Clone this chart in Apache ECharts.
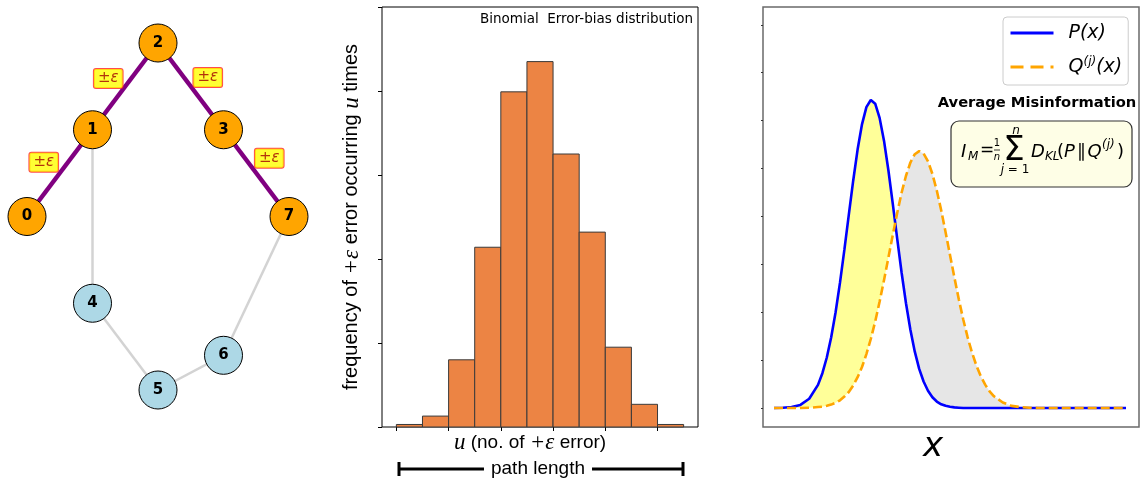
<!DOCTYPE html>
<html>
<head>
<meta charset="utf-8">
<script src="https://cdn.jsdelivr.net/npm/echarts@6/dist/echarts.min.js"></script>
<style>
  html, body { margin: 0; padding: 0; background: #fff; }
  #chart { width: 1142px; height: 479px; }
</style>
</head>
<body>
<div id="chart"></div>
<script>
// --- left panel: network ---
const nodeNames = ['0', '1', '2', '3', '4', '5', '6', '7'];
const nodeX = [0, 1, 2, 3, 1, 2, 3, 4];
const nodeY = [2, 1, 0, 1, 3, 4, 3.6, 2];
const pathNodes = ['0', '1', '2', '3', '7'];
const pathEdges = [[0, 1], [1, 2], [2, 3], [3, 7]];
const otherEdges = [[1, 4], [4, 5], [5, 6], [6, 7]];

// --- middle panel: histogram ---
const binEdges = [0, 1, 2, 3, 4, 5, 6, 7, 8, 9, 10, 11];
const binCounts = [0.03, 0.13, 0.80, 2.14, 3.99, 4.35, 3.25, 2.32, 0.95, 0.27, 0.03];
const histTicks = [0, 2, 4, 6, 8, 10];

// --- right panel: P(x) and Q(x) ---
const curveX = [0, 1, 2, 3, 4, 5, 5.5, 6, 6.5, 7, 7.5, 8, 8.5, 9, 9.5, 10, 10.5, 11, 11.5, 12,
  12.5, 13, 13.5, 14, 14.5, 15, 15.5, 16, 16.5, 17, 17.5, 18, 18.5, 19, 19.5, 20, 20.5, 21, 21.5,
  22, 22.5, 23, 23.5, 24, 24.5, 25, 26, 27, 28, 29, 30, 32, 34, 36, 38, 40];
const pValues = [0, 0.001, 0.003, 0.010, 0.030, 0.075, 0.113, 0.164, 0.230, 0.311, 0.407, 0.514,
  0.627, 0.738, 0.839, 0.921, 0.977, 1.000, 0.988, 0.942, 0.868, 0.772, 0.663, 0.550, 0.440,
  0.340, 0.254, 0.183, 0.127, 0.086, 0.056, 0.035, 0.021, 0.012, 0.007, 0.004, 0.002, 0.001, 0,
  0, 0, 0, 0, 0, 0, 0, 0, 0, 0, 0, 0, 0, 0, 0, 0, 0];
const qValues = [0, 0, 0, 0, 0.001, 0.003, 0.004, 0.007, 0.011, 0.017, 0.025, 0.037, 0.052,
  0.073, 0.100, 0.133, 0.175, 0.224, 0.281, 0.345, 0.415, 0.488, 0.562, 0.633, 0.699, 0.754,
  0.797, 0.824, 0.834, 0.826, 0.801, 0.760, 0.706, 0.642, 0.571, 0.497, 0.424, 0.353, 0.288,
  0.230, 0.180, 0.138, 0.103, 0.076, 0.054, 0.038, 0.018, 0.007, 0.003, 0.001, 0, 0, 0, 0, 0, 0];
const densityTicks = [0, 0.156, 0.311, 0.467, 0.622, 0.778, 0.933, 1.089, 1.244];

const chart = echarts.init(document.getElementById('chart'));

const edgeLabelOffsets = [[-16, -11], [-17, -8], [17, -9], [13, -15]];

// where P drops below Q (linear between samples)
function findCrossing() {
  for (let i = 0; i < curveX.length - 1; i++) {
    const d0 = pValues[i] - qValues[i];
    const d1 = pValues[i + 1] - qValues[i + 1];
    if (d0 >= 0 && d1 < 0) {
      const t = d0 / (d0 - d1);
      return {
        i: i,
        x: curveX[i] + t * (curveX[i + 1] - curveX[i]),
        y: pValues[i] + t * (pValues[i + 1] - pValues[i])
      };
    }
  }
  return null;
}

function renderFill(params, api) {
  const c = findCrossing();
  const n = curveX.length;
  const pts = [];
  if (params.dataIndex === 0) {
    for (let i = 0; i <= c.i; i++) pts.push(api.coord([curveX[i], pValues[i]]));
    pts.push(api.coord([c.x, c.y]));
    for (let i = c.i; i >= 0; i--) pts.push(api.coord([curveX[i], qValues[i]]));
  } else {
    pts.push(api.coord([c.x, c.y]));
    for (let i = c.i + 1; i < n; i++) pts.push(api.coord([curveX[i], qValues[i]]));
    for (let i = n - 1; i > c.i; i--) pts.push(api.coord([curveX[i], pValues[i]]));
  }
  return {
    type: 'polygon',
    shape: { points: pts },
    style: { fill: params.dataIndex === 0 ? '#ffff99' : '#e6e6e6', stroke: null }
  };
}

function renderBin(params, api) {
  const topLeft = api.coord([api.value(0), api.value(2)]);
  const bottomRight = api.coord([api.value(1), 0]);
  return {
    type: 'rect',
    shape: {
      x: topLeft[0], y: topLeft[1],
      width: bottomRight[0] - topLeft[0], height: bottomRight[1] - topLeft[1]
    },
    style: { fill: '#ec8444', stroke: '#3a3a3a', lineWidth: 1 }
  };
}

const serifMath = { fontFamily: 'Liberation Serif', fontStyle: 'italic', fontSize: 23 };
const sansText = 'Liberation Sans';
const mathFont = 'DejaVu Sans';

const option = {
  animation: false,
  backgroundColor: '#fff',
  grid: [
    { left: 27, top: 43, width: 262, height: 347 },
    { left: 382, top: 7, width: 316, height: 420, show: true, borderColor: '#000', borderWidth: 1 },
    { left: 763, top: 7, width: 376, height: 420, show: true, borderColor: '#6a6a6a', borderWidth: 1.5 }
  ],
  xAxis: [
    { gridIndex: 0, type: 'value', min: 0, max: 4, show: false },
    {
      gridIndex: 1, type: 'value', min: -0.55, max: 11.55,
      axisLine: { show: false, onZero: false },
      axisTick: { show: true, length: 4, customValues: histTicks, lineStyle: { color: '#000' } },
      axisLabel: { show: false },
      splitLine: { show: false },
      name: '{m|u} (no. of {m|+ε} error)',
      nameLocation: 'middle',
      nameGap: 4,
      nameTextStyle: {
        fontFamily: sansText, fontSize: 19, color: '#000', verticalAlign: 'top',
        padding: [0, 20, 0, 0],
        rich: { m: serifMath }
      }
    },
    { gridIndex: 2, type: 'value', min: -1.25, max: 41.48, show: false }
  ],
  yAxis: [
    { gridIndex: 0, type: 'value', min: 0, max: 4, inverse: true, show: false },
    {
      gridIndex: 1, type: 'value', min: 0, max: 5, interval: 1,
      axisLine: { show: false, onZero: false },
      axisTick: { show: true, length: 4, lineStyle: { color: '#000' } },
      axisLabel: { show: false },
      splitLine: { show: false },
      name: 'frequency of {m|+ε} error occurring {m|u} times',
      nameLocation: 'middle',
      nameRotate: 90,
      nameGap: 19,
      nameTextStyle: {
        fontFamily: sansText, fontSize: 20, color: '#000',
        rich: { m: serifMath }
      }
    },
    {
      gridIndex: 2, type: 'value', min: -0.0617, max: 1.302,
      axisLine: { show: false, onZero: false },
      axisTick: { show: true, length: 2, customValues: densityTicks, lineStyle: { color: '#333' } },
      axisLabel: { show: false },
      splitLine: { show: false }
    }
  ],
  legend: {
    left: 1003, top: 17,
    orient: 'vertical',
    padding: [5, 6, 7, 6],
    itemGap: 12,
    itemWidth: 43,
    itemHeight: 14,
    backgroundColor: '#fff',
    borderColor: '#cccccc',
    borderWidth: 1,
    borderRadius: 4,
    itemStyle: { opacity: 0 },
    data: [
      { name: 'P', lineStyle: { width: 3 } },
      { name: 'Q', lineStyle: { width: 3, type: [13, 7] } }
    ],
    formatter: function (name) {
      return name === 'P' ? '{i|P}(x)' : '{i|Q}{s|(j)}(x)';
    },
    textStyle: {
      fontFamily: mathFont, fontStyle: 'italic', fontSize: 19, color: '#000',
      lineHeight: 22, padding: [0, 0, 0, 10],
      rich: {
        i: { fontFamily: mathFont, fontStyle: 'italic', fontSize: 19, lineHeight: 22 },
        s: { fontFamily: mathFont, fontStyle: 'italic', fontSize: 12, verticalAlign: 'top', lineHeight: 22, padding: [0, 0, 8, 0] }
      }
    }
  },
  series: [
    {
      type: 'graph',
      coordinateSystem: 'cartesian2d',
      xAxisIndex: 0,
      yAxisIndex: 0,
      symbolSize: 38,
      z: 3,
      data: nodeNames.map((name, i) => ({
        name: name,
        value: [nodeX[i], nodeY[i]],
        itemStyle: { color: pathNodes.includes(name) ? '#FFA500' : '#ADD8E6' }
      })),
      links: pathEdges.map(([a, b]) => ({
        source: String(a), target: String(b),
        lineStyle: { color: '#800080', width: 4.5 }
      })).concat(otherEdges.map(([a, b]) => ({
        source: String(a), target: String(b),
        lineStyle: { color: '#d3d3d3', width: 2.5 }
      }))),
      itemStyle: { borderColor: '#000', borderWidth: 1 },
      lineStyle: { opacity: 1, curveness: 0 },
      label: {
        show: true, position: 'inside', color: '#000',
        fontFamily: mathFont, fontWeight: 'bold', fontSize: 15
      },
      emphasis: { disabled: true }
    },
    {
      type: 'scatter',
      xAxisIndex: 0,
      yAxisIndex: 0,
      symbol: 'circle',
      symbolSize: 1,
      z: 4,
      itemStyle: { color: 'rgba(0,0,0,0)' },
      data: pathEdges.map(([a, b], k) => ({
        value: [(nodeX[a] + nodeX[b]) / 2, (nodeY[a] + nodeY[b]) / 2],
        label: { offset: edgeLabelOffsets[k] }
      })),
      label: {
        show: true,
        position: 'inside',
        formatter: '±{e|ε}',
        color: '#a00000',
        fontFamily: mathFont,
        fontSize: 15,
        backgroundColor: '#ffff00',
        borderColor: '#ff2020',
        borderWidth: 1,
        borderRadius: 2,
        padding: [2, 4, 2, 4],
        rich: { e: { fontFamily: mathFont, fontStyle: 'italic', fontSize: 15, color: '#a00000' } }
      },
      emphasis: { disabled: true }
    },
    {
      type: 'custom',
      xAxisIndex: 1,
      yAxisIndex: 1,
      renderItem: renderBin,
      encode: { x: [0, 1], y: 2 },
      data: binCounts.map((c, i) => [binEdges[i], binEdges[i + 1], c])
    },
    {
      type: 'custom',
      xAxisIndex: 2,
      yAxisIndex: 2,
      renderItem: renderFill,
      encode: { x: 0, y: 1 },
      z: 1,
      data: [[0, 0], [1, 0]]
    },
    {
      name: 'P',
      type: 'line',
      xAxisIndex: 2,
      yAxisIndex: 2,
      symbol: 'none',
      z: 3,
      lineStyle: { color: '#0000ff', width: 2.6 },
      itemStyle: { color: '#0000ff' },
      data: curveX.map((x, i) => [x, pValues[i]])
    },
    {
      name: 'Q',
      type: 'line',
      xAxisIndex: 2,
      yAxisIndex: 2,
      symbol: 'none',
      z: 4,
      lineStyle: { color: '#ffa500', width: 2.6, type: [9, 4] },
      itemStyle: { color: '#ffa500' },
      data: curveX.map((x, i) => [x, qValues[i]])
    }
  ],
  graphic: [
    // histogram title
    {
      type: 'text', x: 693, y: 19,
      style: {
        text: 'Binomial  Error-bias distribution', align: 'right', verticalAlign: 'middle',
        fontFamily: mathFont, fontSize: 13.5, fill: '#000'
      }
    },
    // path length bracket
    { type: 'line', shape: { x1: 399, y1: 469, x2: 683, y2: 469 }, style: { stroke: '#000', lineWidth: 3 } },
    { type: 'line', shape: { x1: 399, y1: 462, x2: 399, y2: 476 }, style: { stroke: '#000', lineWidth: 3 } },
    { type: 'line', shape: { x1: 683, y1: 462, x2: 683, y2: 476 }, style: { stroke: '#000', lineWidth: 3 } },
    {
      type: 'text', x: 538, y: 469, z: 10,
      style: {
        text: 'path length', align: 'center', verticalAlign: 'middle',
        fontFamily: sansText, fontSize: 19, fill: '#000',
        backgroundColor: '#fff', padding: [0, 7, 0, 7]
      }
    },
    // right panel annotations
    {
      type: 'text', x: 933, y: 447,
      style: {
        text: 'x', align: 'center', verticalAlign: 'middle',
        fontFamily: mathFont, fontStyle: 'italic', fontSize: 34, fill: '#000'
      }
    },
    {
      type: 'text', x: 1037, y: 103,
      style: {
        text: 'Average Misinformation', align: 'center', verticalAlign: 'middle',
        fontFamily: mathFont, fontWeight: 'bold', fontSize: 14.7, fill: '#000'
      }
    },
    {
      type: 'rect', shape: { x: 951, y: 121, width: 181, height: 66, r: 8 },
      style: { fill: '#fefee6', stroke: '#333', lineWidth: 1.2 }
    },
    { type: 'text', x: 961, y: 152, style: { text: 'I', verticalAlign: 'middle', fontFamily: mathFont, fontStyle: 'italic', fontSize: 18, fill: '#000' } },
    { type: 'text', x: 968, y: 157, style: { text: 'M', verticalAlign: 'middle', fontFamily: mathFont, fontStyle: 'italic', fontSize: 12, fill: '#000' } },
    { type: 'text', x: 980, y: 151, style: { text: '=', verticalAlign: 'middle', fontFamily: mathFont, fontSize: 17, fill: '#000' } },
    { type: 'text', x: 997, y: 143, style: { text: '1', align: 'center', verticalAlign: 'middle', fontFamily: mathFont, fontSize: 10, fill: '#000' } },
    { type: 'line', shape: { x1: 994, y1: 150, x2: 1000, y2: 150 }, style: { stroke: '#000', lineWidth: 0.8 } },
    { type: 'text', x: 997, y: 157, style: { text: 'n', align: 'center', verticalAlign: 'middle', fontFamily: mathFont, fontStyle: 'italic', fontSize: 10, fill: '#000' } },
    { type: 'text', x: 1014, y: 151, style: { text: 'Σ', align: 'center', verticalAlign: 'middle', fontFamily: mathFont, fontSize: 34, fill: '#000' } },
    { type: 'text', x: 1016, y: 131, style: { text: 'n', align: 'center', verticalAlign: 'middle', fontFamily: mathFont, fontStyle: 'italic', fontSize: 12, fill: '#000' } },
    {
      type: 'text', x: 1015, y: 170,
      style: {
        text: '{i|j} = 1', align: 'center', verticalAlign: 'middle', fontFamily: mathFont, fontSize: 12, fill: '#000',
        rich: { i: { fontFamily: mathFont, fontStyle: 'italic', fontSize: 12 } }
      }
    },
    { type: 'text', x: 1031, y: 152, style: { text: 'D', verticalAlign: 'middle', fontFamily: mathFont, fontStyle: 'italic', fontSize: 18, fill: '#000' } },
    { type: 'text', x: 1045, y: 157, style: { text: 'KL', verticalAlign: 'middle', fontFamily: mathFont, fontStyle: 'italic', fontSize: 12, fill: '#000' } },
    {
      type: 'text', x: 1057, y: 152,
      style: {
        text: '({i|P}\u200a\u2225\u200a{i|Q}', verticalAlign: 'middle', fontFamily: mathFont, fontSize: 18, fill: '#000',
        rich: { i: { fontFamily: mathFont, fontStyle: 'italic', fontSize: 18 } }
      }
    },
    { type: 'text', x: 1102, y: 145, style: { text: '(j)', verticalAlign: 'middle', fontFamily: mathFont, fontStyle: 'italic', fontSize: 12, fill: '#000' } },
    { type: 'text', x: 1117, y: 152, style: { text: ')', verticalAlign: 'middle', fontFamily: mathFont, fontSize: 18, fill: '#000' } }
  ]
};

chart.setOption(option);
</script>
</body>
</html>
